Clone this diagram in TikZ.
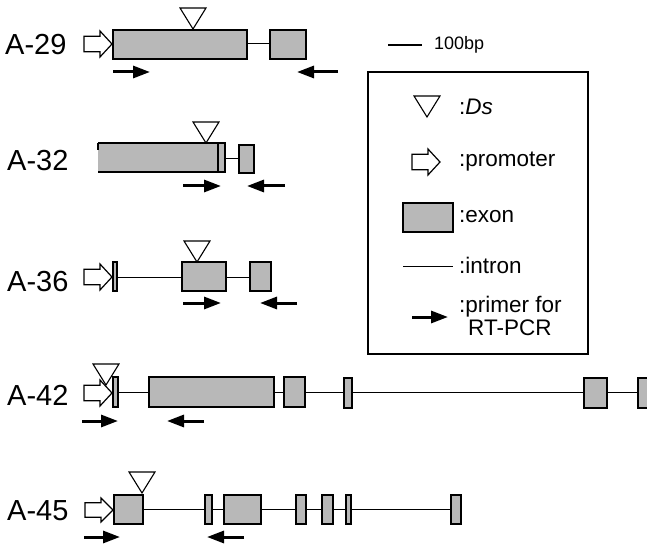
\documentclass[tikz,border=0pt]{standalone}
\usepackage{fontspec}
\setmainfont{Liberation Sans}
\usetikzlibrary{arrows.meta}
\tikzset{
  exon/.style={draw=black, line width=1.3pt, fill=black!28},
  intron/.style={draw=black, line width=1pt},
  promstyle/.style={draw=black, line width=1.2pt, fill=white, line join=miter},
  dsstyle/.style={draw=black, line width=1.1pt, fill=white},
  primer/.style={draw=black, line width=3pt, -{Triangle[length=17pt,width=12pt]}},
  lab/.style={anchor=west, inner sep=0pt, font=\fontsize{29}{29}\selectfont},
  leg/.style={anchor=west, inner sep=0pt, font=\fontsize{22.5}{22}\selectfont, align=left},
}
% promoter: tip x, center y, half height
\newcommand\prom[3]{\draw[promstyle] ({#1-28},{#2-#3*0.6}) -- ({#1-12},{#2-#3*0.6}) -- ({#1-12},{#2-#3}) -- (#1,#2) -- ({#1-12},{#2+#3}) -- ({#1-12},{#2+#3*0.6}) -- ({#1-28},{#2+#3*0.6}) -- cycle;}
% Ds triangle: apex x, apex y
\newcommand\dsmark[2]{\draw[dsstyle] ({#1-13},{#2-21}) -- ({#1+13},{#2-21}) -- (#1,#2) -- cycle;}
\begin{document}
\begin{tikzpicture}[x=1pt,y=-1pt]
\clip (0,0) rectangle (647,545);
\fill[white] (0,0) rectangle (647,545);

% ---------- A-29 ----------
\node[lab] (l29) at (5,45) {A-29};
\draw[intron] (247,44) -- (270,44);
\draw[exon] (113,30) rectangle (247,59);
\draw[exon] (270,30) rectangle (306,59);
\prom{112}{44}{13}
\dsmark{193}{29}
\draw[primer] (113,72) -- (150,72);
\draw[primer] (338,72) -- (297,72);

% ---------- A-32 ----------
\node[lab] (l32) at (7,161) {A-32};
\draw[intron] (225,159) -- (239,159);
\fill[black!28] (98,143) rectangle (225,172);
\draw[exon, fill=none] (98,143) -- (225,143) -- (225,172) -- (98,172);
\draw[black, line width=1.3pt] (98,143) -- (98,150);
\draw[black, line width=1.1pt] (218,143) -- (218,172);
\draw[exon] (239,145) rectangle (254,173);
\dsmark{206}{143}
\draw[primer] (183,186) -- (221,186);
\draw[primer] (285,186) -- (247,186);

% ---------- A-36 ----------
\node[lab] (l36) at (7,282) {A-36};
\draw[intron] (117,277) -- (182,277);
\draw[intron] (226,277) -- (250,277);
\draw[exon] (113,262) rectangle (117,291);
\draw[exon] (182,262) rectangle (226,291);
\draw[exon] (250,262) rectangle (271,291);
\prom{112}{277}{13}
\dsmark{197}{262}
\draw[primer] (183,303) -- (221,303);
\draw[primer] (297,303) -- (260,303);

% ---------- A-42 ----------
\node[lab] (l42) at (7,395) {A-42};
\draw[intron] (118,392) -- (650,392);
\draw[exon] (113,377) rectangle (118,407);
\draw[exon] (149,377) rectangle (274,407);
\draw[exon] (284,377) rectangle (305,407);
\draw[exon] (344,378) rectangle (352,408);
\draw[exon] (584,378) rectangle (607,408);
\draw[exon] (638,378) rectangle (652,408);
\prom{112}{393}{13}
\dsmark{106}{385}
\draw[primer] (82,421) -- (118,421);
\draw[primer] (204,421) -- (167,421);

% ---------- A-45 ----------
\node[lab] (l45) at (7,511) {A-45};
\draw[intron] (143,509) -- (451,509);
\draw[exon] (114,495) rectangle (143,524);
\draw[exon] (205,495) rectangle (212,524);
\draw[exon] (224,495) rectangle (261,524);
\draw[exon] (296,495) rectangle (306,524);
\draw[exon] (322,495) rectangle (333,524);
\draw[exon] (346,495) rectangle (351,524);
\draw[exon] (451,495) rectangle (461,524);
\prom{113}{510}{12}
\dsmark{142}{493}
\draw[primer] (84,537) -- (120,537);
\draw[primer] (244,537) -- (207,537);

% ---------- scale bar ----------
\draw[black, line width=1.8pt] (388,45) -- (422,45);
\node[anchor=west, inner sep=0pt, font=\fontsize{18}{18}\selectfont] (bp) at (434,45) {100bp};

% ---------- legend ----------
\draw[black, line width=1.3pt] (368,72) rectangle (588,354);
\dsmark{427}{117}
\node[leg] (tds) at (459,107) {:\textit{Ds}};
\prom{440}{162}{13}
\node[leg] (tprom) at (459,162) {:promoter};
\draw[exon] (403,203) rectangle (453,232);
\node[leg] (texon) at (459,217) {:exon};
\draw[intron] (403,266) -- (453,266);
\node[leg] (tintron) at (459,265) {:intron};
\draw[primer] (412,317) -- (448,317);
\node[leg, font=\fontsize{22.5}{23.5}\selectfont] (tprim) at (459,316) {:primer for\\\hspace{9pt}RT-PCR};
\end{tikzpicture}
\end{document}
